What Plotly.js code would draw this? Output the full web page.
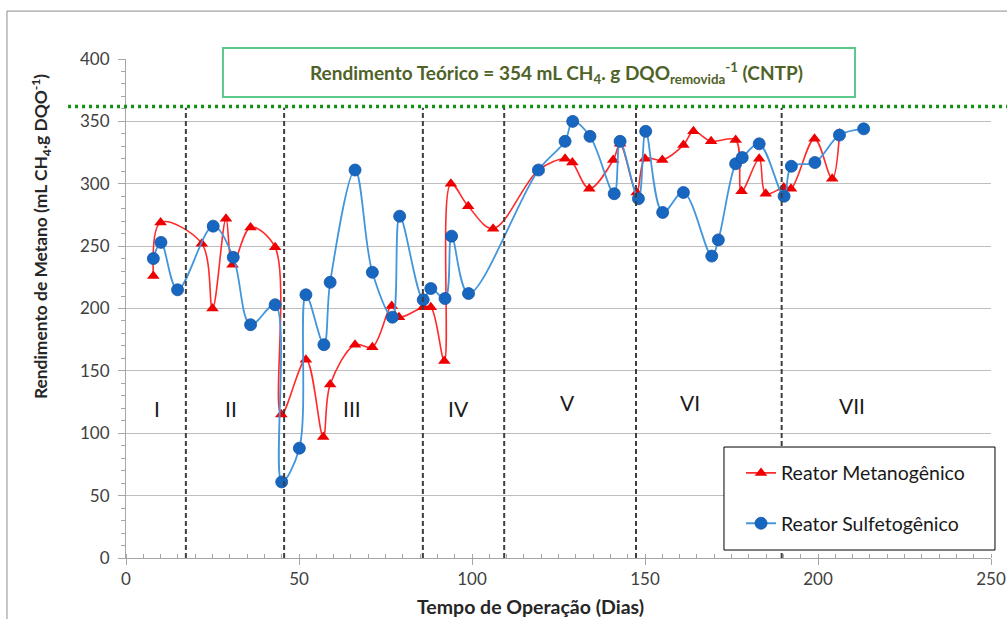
<!DOCTYPE html>
<html>
<head>
<meta charset="utf-8">
<script src="https://cdn.plot.ly/plotly-3.0.1.min.js"></script>
<style>html,body{margin:0;padding:0;background:#fff;}#chart{width:1007px;height:619px;}</style>
</head>
<body>
<div id="chart"></div>
<script>
// ---- data ----
const metanoDias = [7.9, 10.0, 21.9, 25.0, 28.9, 30.8, 36.0, 43.1, 44.9, 52.0, 57.0, 59.0, 66.2, 71.2, 76.8, 78.9, 85.9, 88.1, 92.0, 93.9, 98.9, 106.1, 119.2, 126.9, 129.0, 133.9, 140.8, 142.8, 147.6, 150.0, 155.0, 161.1, 164.0, 169.1, 176.2, 177.9, 183.0, 184.9, 190.1, 192.2, 199.0, 204.1, 206.2];
const metanoRend = [226, 269, 252, 200, 272, 235, 265, 249, 115, 159, 97, 139, 171, 169, 202, 193, 201, 201, 158, 300, 282, 264, 311, 320, 317, 296, 319, 332, 293, 320, 319, 331, 342, 334, 335, 294, 320, 292, 297, 296, 336, 304, 340];

const sulfDias = [7.9, 10.1, 14.9, 25.2, 31.0, 36.0, 43.1, 45.0, 50.1, 52.0, 57.2, 59.0, 66.2, 71.2, 77.0, 79.1, 85.9, 88.1, 92.2, 94.1, 99.0, 119.2, 126.9, 129.1, 134.1, 141.1, 142.8, 148.1, 150.2, 155.1, 161.1, 169.3, 171.2, 176.2, 178.1, 183.0, 190.2, 192.3, 199.1, 206.2, 213.2];
const sulfRend = [240, 253, 215, 266, 241, 187, 203, 61, 88, 211, 171, 221, 311, 229, 193, 274, 207, 216, 208, 258, 212, 311, 334, 350, 338, 292, 334, 288, 342, 277, 293, 242, 255, 316, 321, 332, 290, 314, 317, 339, 344];

const fasesLimites = [17.3, 45.7, 85.8, 109.3, 147.4, 189.5];
const fasesNomes = ["I", "II", "III", "IV", "V", "VI", "VII"];
const fasesDiaRotulo = [9.0, 30.3, 65.3, 96.2, 127.5, 163.0, 209.8];
const fasesRendRotulo = [120, 120, 120, 120, 125, 125, 122];
const linhaTeorica = 362;

const xTicks = [0, 50, 100, 150, 200, 250];
const yTicks = [0, 50, 100, 150, 200, 250, 300, 350, 400];

const FONT = 'Lato, "Open Sans", sans-serif';

const traces = [
  {
    x: metanoDias, y: metanoRend, type: 'scatter', mode: 'lines+markers',
    name: 'Reator Metanogênico', legendgroup: 'a',
    line: {color: '#FF2A2A', width: 1.6, shape: 'spline', smoothing: 1},
    marker: {symbol: 'triangle-up', size: 11, color: '#EE0000'}
  },
  {
    x: sulfDias, y: sulfRend, type: 'scatter', mode: 'lines+markers',
    name: 'Reator Sulfetogênico', legendgroup: 'b',
    line: {color: '#4396DC', width: 1.8, shape: 'spline', smoothing: 1},
    marker: {symbol: 'circle', size: 12, color: '#1766BF', line: {color: '#1556A8', width: 0.8}}
  }
];

const shapes = [];
// outer frame
shapes.push({type: 'rect', xref: 'paper', yref: 'paper', x0: -0.1376, x1: 1.2, y0: -0.3, y1: 1.096,
  line: {color: '#8C8C8C', width: 1}, fillcolor: 'rgba(0,0,0,0)', layer: 'below'});
// phase boundaries
fasesLimites.forEach(d => shapes.push({type: 'line', xref: 'x', yref: 'y', x0: d, x1: d, y0: 0, y1: 361,
  line: {color: '#3F3F3F', width: 2, dash: '5px,3px'}}));
// theoretical yield line
shapes.push({type: 'line', xref: 'paper', yref: 'paper', x0: -0.067, x1: 1.05,
  y0: linhaTeorica / 400, y1: linhaTeorica / 400,
  line: {color: '#139013', width: 3.5, dash: '3px,4px'}});
// title box
shapes.push({type: 'rect', xref: 'paper', yref: 'paper', x0: 0.1121, x1: 0.8428, y0: 0.9238, y1: 1.022,
  line: {color: '#5CC98A', width: 2}, fillcolor: '#FFFFFF', layer: 'above'});
// legend box
shapes.push({type: 'rect', xref: 'paper', yref: 'paper', x0: 0.6913, x1: 1.0046, y0: 0.016, y1: 0.2224,
  line: {color: '#000000', width: 1}, fillcolor: '#FFFFFF', layer: 'above'});

const annotations = [];
fasesNomes.forEach((t, i) => annotations.push({x: fasesDiaRotulo[i], y: fasesRendRotulo[i], xref: 'x', yref: 'y',
  text: t, showarrow: false, font: {family: FONT, size: 21, color: '#1A1A1A'}}));
annotations.push({xref: 'paper', yref: 'paper', x: 0.4977, y: 0.972, yanchor: 'middle', xanchor: 'center', showarrow: false,
  text: '<b>Rendimento Teórico = 354 mL CH<sub>4</sub>. g DQO<sub>removida</sub><sup>-1</sup> (CNTP)</b>',
  font: {family: FONT, size: 19, color: '#4F6228'}});
annotations.push({xref: 'paper', yref: 'paper', x: 0.468, y: -0.098, yanchor: 'middle', xanchor: 'center', showarrow: false,
  text: '<b>Tempo de Operação (Dias)</b>', font: {family: FONT, size: 19.5, color: '#262626'}});
annotations.push({xref: 'paper', yref: 'paper', x: -0.0983, y: 0.645, xanchor: 'center', yanchor: 'middle', showarrow: false, textangle: -90,
  text: '<b>Rendimento de Metano (mL CH<sub>4</sub>.g DQO<sup>-1</sup>)</b>', font: {family: FONT, size: 17.4, color: '#262626'}});

const layout = {
  width: 1007, height: 619,
  margin: {l: 126, r: 16, t: 59, b: 61, pad: 0},
  paper_bgcolor: '#FFFFFF', plot_bgcolor: '#FFFFFF',
  font: {family: FONT, color: '#404040'},
  showlegend: true,
  legend: {x: 0.711, y: 0.209, xanchor: 'left', yanchor: 'top', bgcolor: 'rgba(0,0,0,0)', borderwidth: 0,
    tracegroupgap: 22, font: {family: FONT, size: 19.5, color: '#1A1A1A'}, itemwidth: 30},
  xaxis: {range: [0, 250], tickvals: xTicks, ticktext: xTicks.map(String), showgrid: false, zeroline: false,
    showline: true, linecolor: '#A6A6A6', linewidth: 1, ticks: 'outside', ticklen: 6, tickcolor: '#A6A6A6',
    minor: {dtick: 5, ticks: 'inside', ticklen: 4, tickcolor: '#A6A6A6', showgrid: false},
    tickfont: {family: FONT, size: 17, color: '#404040'}, fixedrange: true},
  yaxis: {range: [0, 400], tickvals: yTicks, ticktext: yTicks.map(String), showgrid: true, gridcolor: '#BDBDBD', gridwidth: 1,
    zeroline: false, showline: true, linecolor: '#A6A6A6', linewidth: 1, ticks: 'outside', ticklen: 7, tickcolor: '#A6A6A6',
    minor: {dtick: 10, ticks: 'outside', ticklen: 4, tickcolor: '#A6A6A6', showgrid: false},
    ticklabelstandoff: 5,
    tickfont: {family: FONT, size: 17, color: '#404040'}, fixedrange: true},
  shapes: shapes,
  annotations: annotations
};

Plotly.newPlot('chart', traces, layout, {displayModeBar: false, staticPlot: true});
</script>
</body>
</html>
